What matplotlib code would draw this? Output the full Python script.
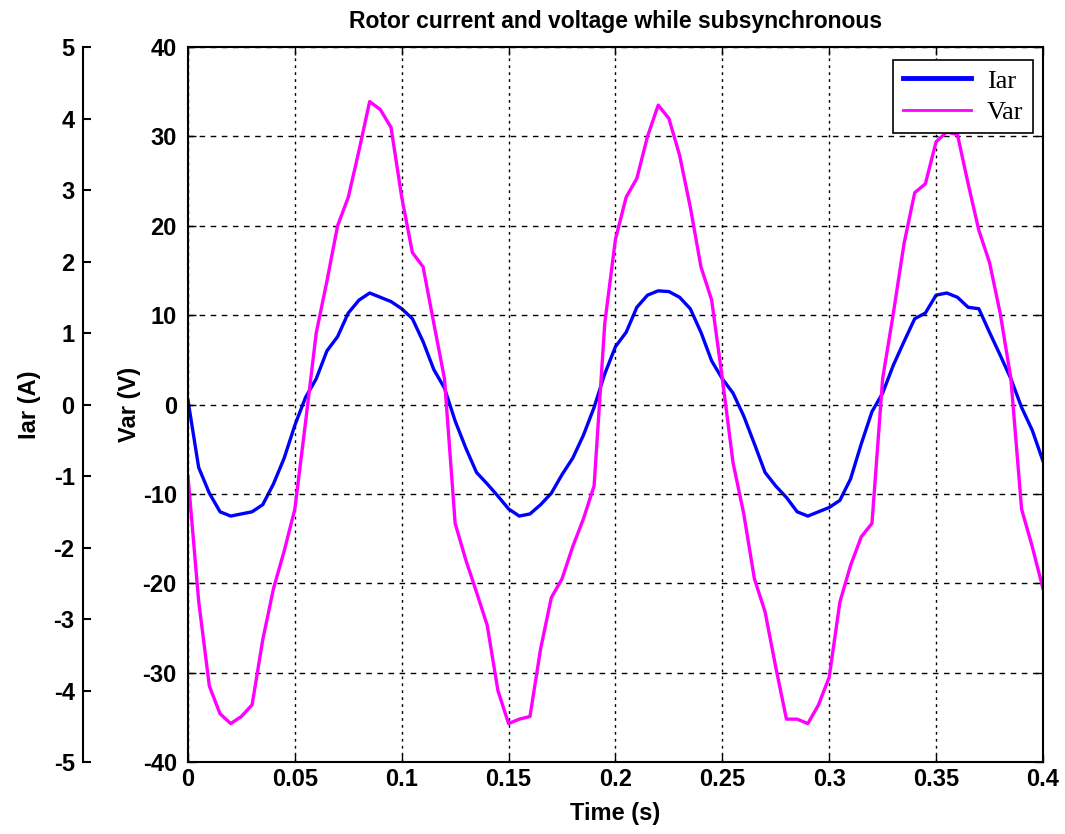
#!/usr/bin/env python3
import matplotlib
matplotlib.use('Agg')
import matplotlib.pyplot as plt
import numpy as np

t = np.arange(0, 0.4001, 0.005)

# rotor current Iar (A)
iar = [0.06, -0.88, -1.24, -1.5, -1.56, -1.53, -1.5, -1.4, -1.11, -0.75,
       -0.29, 0.1, 0.36, 0.75, 0.95, 1.28, 1.46, 1.56, 1.5, 1.44,
       1.34, 1.2, 0.88, 0.49, 0.23, -0.23, -0.61, -0.95, -1.11, -1.28,
       -1.46, -1.56, -1.53, -1.4, -1.24, -0.98, -0.75, -0.43, -0.04, 0.43,
       0.81, 1.01, 1.36, 1.53, 1.59, 1.58, 1.5, 1.34, 1.01, 0.61,
       0.36, 0.16, -0.16, -0.55, -0.95, -1.14, -1.3, -1.5, -1.56, -1.5,
       -1.44, -1.34, -1.04, -0.55, -0.1, 0.16, 0.55, 0.88, 1.2, 1.28,
       1.53, 1.56, 1.5, 1.36, 1.34, 1.01, 0.69, 0.36, -0.04, -0.36,
       -0.79]

# rotor voltage Var (V)
var = [-8, -22, -31.5, -34.6, -35.7, -34.9, -33.6, -26.3, -20.6, -16.4,
       -11.7, -2, 8, 13.8, 20, 23.2, 28.4, 33.9, 33, 31,
       23.2, 17, 15.4, 9.1, 2.9, -13.3, -17.4, -21, -24.7, -32,
       -35.7, -35.2, -34.9, -27.3, -21.6, -19.5, -15.9, -12.8, -9.1, 9.1,
       18.5, 23.2, 25.3, 30, 33.5, 32, 27.9, 22.1, 15.4, 11.7,
       2.9, -6.5, -12.2, -19.5, -23.2, -29.4, -35.2, -35.2, -35.7, -33.6,
       -30.5, -22.1, -18, -14.8, -13.3, 2.9, 10.2, 18, 23.7, 24.7,
       29.4, 30.5, 30.2, 24.7, 19.5, 15.9, 10.2, 2.9, -11.7, -15.9,
       -20.6]

xticks = [0, 0.05, 0.1, 0.15, 0.2, 0.25, 0.3, 0.35, 0.4]
xticklabels = ['0', '0.05', '0.1', '0.15', '0.2', '0.25', '0.3', '0.35', '0.4']
var_ticks = [-40, -30, -20, -10, 0, 10, 20, 30, 40]
iar_ticks = [-5, -4, -3, -2, -1, 0, 1, 2, 3, 4, 5]

plt.rcParams['font.family'] = ['Liberation Sans Narrow', 'Liberation Sans', 'DejaVu Sans']
plt.rcParams['font.weight'] = 'bold'
plt.rcParams['axes.unicode_minus'] = False

fig = plt.figure(figsize=(10.65, 8.34), dpi=100)
ax = fig.add_axes([0.1765, 0.0863, 0.8028, 0.8573])

# current on its own axis, spine pushed out to the left
ax2 = ax.twinx()
l1, = ax2.plot(t, iar, color='#0000ff', lw=2.4, label='Iar')
l2, = ax.plot(t, var, color='#ff00ff', lw=2.4, label='Var')
ax.set_zorder(ax2.get_zorder() + 1)
ax.patch.set_visible(False)

ax.set_xlim(0, 0.4)
ax.set_ylim(-40, 40)
ax.set_xticks(xticks)
ax.set_xticklabels(xticklabels)
ax.set_yticks(var_ticks)
ax.tick_params(direction='in', length=6, width=1, labelsize=17, top=True, right=True, pad=8)
ax.tick_params(axis='x', pad=4)
ax.xaxis.grid(True, color='black', linestyle=(0, (2, 3)), linewidth=1)
ax.yaxis.grid(True, color='black', linestyle=(0, (4, 4)), linewidth=1)
for s in ax.spines.values():
    s.set_linewidth(1.5)

ax2.set_ylim(-5, 5)
ax2.set_yticks(iar_ticks)
ax2.yaxis.set_ticks_position('left')
ax2.yaxis.set_label_position('left')
ax2.spines['left'].set_position(('outward', 75.6))
ax2.spines['right'].set_visible(False)
ax2.spines['top'].set_visible(False)
ax2.spines['bottom'].set_visible(False)
ax2.spines['left'].set_linewidth(1.5)
ax2.tick_params(axis='y', direction='in', length=6, width=1.5, labelsize=17, pad=6)

ax.set_title('Rotor current and voltage while subsynchronous', fontsize=16.5,
             fontweight='bold', pad=14)
ax.set_xlabel('Time (s)', fontsize=17, fontweight='bold', labelpad=8)
ax.set_ylabel('Var (V)', fontsize=17, fontweight='bold', labelpad=1)
ax2.set_ylabel('Iar (A)', fontsize=17, fontweight='bold', labelpad=9)

leg = ax.legend([l1, l2], ['Iar', 'Var'], loc='upper right',
                bbox_to_anchor=(0.988, 0.982), fancybox=False, framealpha=1,
                edgecolor='black', borderaxespad=0,
                prop={'family': 'Liberation Serif', 'size': 19, 'weight': 'normal'},
                handlelength=2.6, handletextpad=0.6, labelspacing=0.3, borderpad=0.35)
leg.get_frame().set_linewidth(1.2)
leg.get_lines()[0].set_linewidth(3.5)
leg.get_lines()[1].set_linewidth(2)
leg.set_zorder(5)

plt.savefig('out.png', dpi=100)
